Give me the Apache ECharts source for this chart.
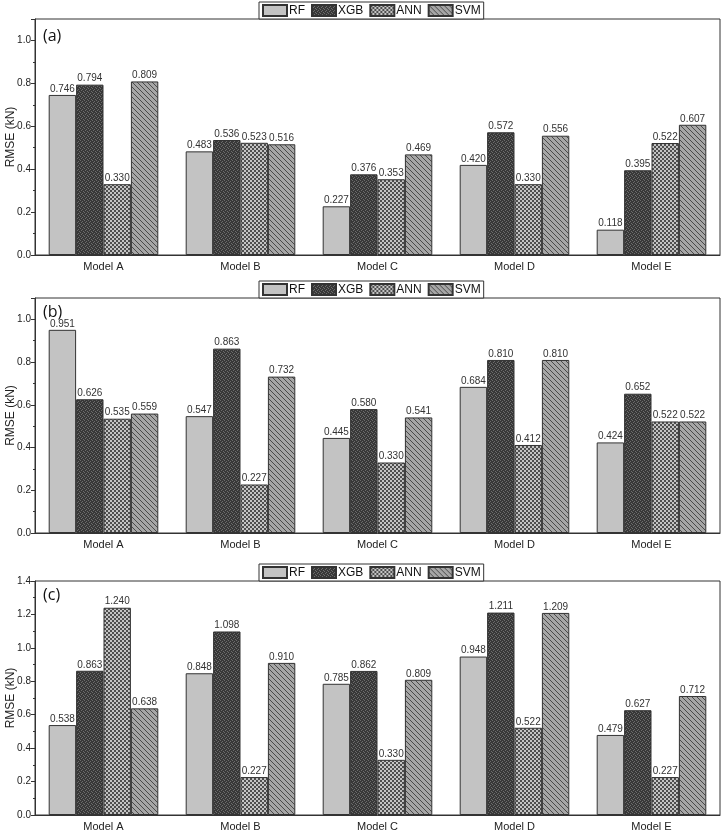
<!DOCTYPE html>
<html>
<head>
<meta charset="utf-8">
<script src="https://cdn.jsdelivr.net/npm/echarts@6/dist/echarts.min.js"></script>
<style>
html, body { margin: 0; padding: 0; background: #fff; }
#chart { width: 723px; height: 831px; }
</style>
</head>
<body>
<div id="chart"></div>
<script>
var categories = ['Model A', 'Model B', 'Model C', 'Model D', 'Model E'];
var seriesNames = ['RF', 'XGB', 'ANN', 'SVM'];

// panel (a)
var rfA  = [0.746, 0.483, 0.227, 0.420, 0.118];
var xgbA = [0.794, 0.536, 0.376, 0.572, 0.395];
var annA = [0.330, 0.523, 0.353, 0.330, 0.522];
var svmA = [0.809, 0.516, 0.469, 0.556, 0.607];
// panel (b)
var rfB  = [0.951, 0.547, 0.445, 0.684, 0.424];
var xgbB = [0.626, 0.863, 0.580, 0.810, 0.652];
var annB = [0.535, 0.227, 0.330, 0.412, 0.522];
var svmB = [0.559, 0.732, 0.541, 0.810, 0.522];
// panel (c)
var rfC  = [0.538, 0.848, 0.785, 0.948, 0.479];
var xgbC = [0.863, 1.098, 0.862, 1.211, 0.627];
var annC = [1.240, 0.227, 0.330, 0.522, 0.227];
var svmC = [0.638, 0.910, 0.809, 1.209, 0.712];

var panelLabels = ['(a)', '(b)', '(c)'];
var yMax = [1.1, 1.1, 1.4];
var panelData = [
  [rfA, xgbA, annA, svmA],
  [rfB, xgbB, annB, svmB],
  [rfC, xgbC, annC, svmC]
];

/* fill patterns like the origin plot */
function makeTile(w, h, draw) {
  var c = document.createElement('canvas');
  c.width = w; c.height = h;
  var ctx = c.getContext('2d');
  draw(ctx);
  return { image: c, repeat: 'repeat' };
}
var fills = [
  '#c3c3c3',
  makeTile(4, 4, function(ctx){
    ctx.fillStyle = '#383838'; ctx.fillRect(0, 0, 4, 4);
    ctx.fillStyle = '#6c6c6c';
    ctx.fillRect(0, 0, 1, 1); ctx.fillRect(2, 1, 1, 1);
    ctx.fillRect(1, 2, 1, 1); ctx.fillRect(3, 3, 1, 1);
  }),
  makeTile(4, 4, function(ctx){
    ctx.fillStyle = '#c4c4c4'; ctx.fillRect(0, 0, 4, 4);
    ctx.fillStyle = '#4e4e4e';
    ctx.fillRect(0, 0, 2, 2); ctx.fillRect(2, 2, 2, 2);
  }),
  makeTile(5, 5, function(ctx){
    ctx.fillStyle = '#a6a6a6'; ctx.fillRect(0, 0, 5, 5);
    ctx.fillStyle = '#4a4a4a';
    for (var i = 0; i < 5; i++) ctx.fillRect(i, i, 1, 1);
  })
];

var grids = [
  { left: 35, right: 3, top: 19, height: 236 },
  { left: 35, right: 3, top: 298, height: 235 },
  { left: 35, right: 3, top: 581, height: 234 }
];
var legendTops = [2, 281, 564];
var titleTops = [23, 299, 582];

var option = {
  animation: false,
  backgroundColor: '#fff',
  textStyle: { fontFamily: 'Liberation Sans, Arial, sans-serif' },
  title: [], legend: [], grid: [], xAxis: [], yAxis: [], series: []
};

for (var p = 0; p < 3; p++) {
  option.grid.push({
    left: grids[p].left, right: grids[p].right, top: grids[p].top, height: grids[p].height,
    containLabel: false, outerBoundsMode: 'none',
    show: true, borderColor: '#333', borderWidth: 1, backgroundColor: 'transparent'
  });
  option.title.push({
    text: panelLabels[p], left: 38, top: titleTops[p],
    textStyle: { fontSize: 16, fontWeight: 'normal', color: '#111', fontFamily: 'Open Sans, sans-serif' }
  });
  option.legend.push({
    data: seriesNames, left: 259, top: legendTops[p],
    icon: 'rect', itemWidth: 24, itemHeight: 11, itemGap: 6,
    padding: [2, 3], borderColor: '#333', borderWidth: 1, backgroundColor: '#fff',
    textStyle: { fontSize: 12, color: '#111', padding: [0, 0, 0, -3] }
  });
  option.xAxis.push({
    type: 'category', gridIndex: p, data: categories,
    axisLine: { lineStyle: { color: '#333' } },
    axisTick: { alignWithLabel: true, length: 4, lineStyle: { color: '#333' } },
    axisLabel: { fontSize: 11, color: '#222', margin: 6 }
  });
  option.yAxis.push({
    type: 'value', gridIndex: p, min: 0, max: yMax[p], interval: 0.2,
    name: 'RMSE (kN)', nameLocation: 'middle', nameGap: 18, nameMoveOverlap: false,
    nameTextStyle: { fontSize: 12, color: '#222' },
    axisLine: { show: true, lineStyle: { color: '#333' } },
    axisTick: { show: true, length: 4, lineStyle: { color: '#333' } },
    minorTick: { show: true, splitNumber: 2, length: 2, lineStyle: { color: '#333' } },
    splitLine: { show: false },
    axisLabel: {
      fontSize: 10, color: '#222', margin: 4, showMaxLabel: yMax[p] === 1.4,
      formatter: function(v){ return v.toFixed(1); }
    }
  });
  for (var s = 0; s < 4; s++) {
    option.series.push({
      name: seriesNames[s], type: 'bar',
      xAxisIndex: p, yAxisIndex: p,
      data: panelData[p][s],
      barGap: '0%', barCategoryGap: '20%',
      itemStyle: { color: fills[s], borderColor: '#333', borderWidth: 1 },
      label: {
        show: true, position: 'top', distance: 1, fontSize: 10, color: '#333',
        formatter: function(d){ return d.value.toFixed(3); }
      }
    });
  }
}

var chart = echarts.init(document.getElementById('chart'), null, { renderer: 'canvas' });
chart.setOption(option);
</script>
</body>
</html>
